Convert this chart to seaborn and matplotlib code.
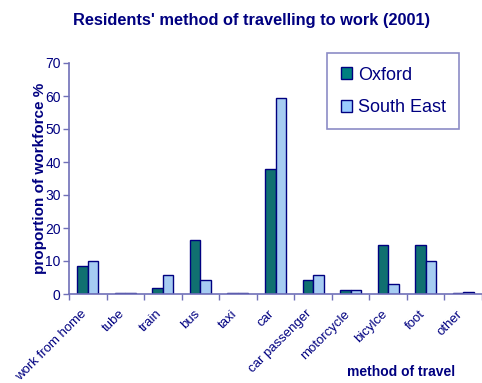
import matplotlib
matplotlib.use("Agg")
import matplotlib.pyplot as plt
import matplotlib.transforms as mtrans
import seaborn as sns
import pandas as pd
import numpy as np
from matplotlib.patches import Patch

categories = ["work from home", "tube", "train", "bus", "taxi", "car",
              "car passenger", "motorcycle", "bicylce", "foot", "other"]
oxford = [8.5, 0.2, 1.9, 16.3, 0.2, 37.8, 4.1, 1.1, 14.8, 14.8, 0.2]
south_east = [9.9, 0.2, 5.7, 4.1, 0.2, 59.3, 5.7, 1.1, 2.9, 9.9, 0.6]
series = ["Oxford", "South East"]
colors = ["#008080", "#99CCFF"]

sns.set_style("white")
plt.rcParams['font.family'] = ['Liberation Sans', 'DejaVu Sans']

navy = "#000080"
axcol = "#7070B8"

df = pd.DataFrame({
    "method": categories * 2,
    "value": oxford + south_east,
    "area": [series[0]] * len(categories) + [series[1]] * len(categories),
})

fig = plt.figure(figsize=(4.82, 3.83), dpi=100)
ax = fig.add_axes([69/482, 89/383, 413/482, 231/383])

sns.barplot(data=df, x="method", y="value", hue="area", order=categories,
            hue_order=series, palette=colors, width=0.56, gap=0,
            edgecolor=navy, linewidth=1.0, ax=ax, legend=False)

ax.set_ylim(0, 70)
ax.set_xlim(-0.5, len(categories) - 0.5)
ax.set_yticks(range(0, 71, 10))
ax.tick_params(axis='y', colors=axcol, labelcolor=navy, labelsize=10,
               length=4, width=1, direction='out', left=True, pad=2)
ax.set_xticks(range(len(categories)))
ax.set_xticklabels(categories, rotation=45, ha='right', rotation_mode='anchor',
                   color=navy, fontsize=9.5)
ax.tick_params(axis='x', which='major', length=0, pad=10)
shift = mtrans.ScaledTranslation(-7/100, 0, fig.dpi_scale_trans)
for lab in ax.get_xticklabels():
    lab.set_transform(lab.get_transform() + shift)
ax.set_xticks(np.arange(-0.5, len(categories), 1.0), minor=True)
ax.tick_params(axis='x', which='minor', length=4, width=1, colors=axcol,
               direction='out', bottom=True)

for s in ["top", "right"]:
    ax.spines[s].set_visible(False)
for s in ["left", "bottom"]:
    ax.spines[s].set_color(axcol)
    ax.spines[s].set_linewidth(1.2)

ax.set_xlabel("")
ax.set_ylabel("")
fig.text(40/482, 1 - 178/383, "proportion of workforce %", color=navy,
         fontsize=11, fontweight='bold', rotation=90, ha='center', va='center')

fig.text(401/482, 1 - 372/383, "method of travel", color=navy, fontsize=10,
         fontweight='bold', ha='center', va='center')
fig.text(252/482, 1 - 20/383, "Residents' method of travelling to work (2001)",
         color=navy, fontsize=11.8, fontweight='bold', ha='center', va='center')

handles = [Patch(facecolor=c, edgecolor=navy, linewidth=1.0) for c in colors]
leg = fig.legend(handles, series, loc='upper left',
                 bbox_to_anchor=(327/482, 1 - 53/383), frameon=True,
                 fancybox=False, fontsize=13, handlelength=0.65,
                 handleheight=0.65, handletextpad=0.3, labelspacing=0.85,
                 borderpad=0.75, borderaxespad=0)
leg.get_frame().set_edgecolor(axcol)
leg.get_frame().set_linewidth(1.2)
for t in leg.get_texts():
    t.set_color(navy)

fig.savefig("out.png", dpi=100)
